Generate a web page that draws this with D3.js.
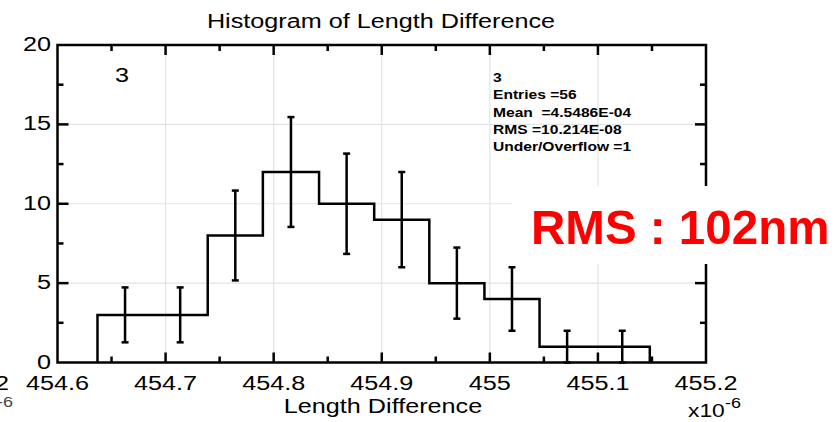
<!DOCTYPE html>
<html>
<head>
<meta charset="utf-8">
<script src="https://cdn.jsdelivr.net/npm/d3@7"></script>
<style>
  html, body { margin: 0; padding: 0; background: #fff; }
  svg { display: block; font-family: "Liberation Sans", Arial, sans-serif; }
  text { white-space: pre; }
</style>
</head>
<body>
<script>
const width = 840;
const height = 422;

// histogram data
const binEdges = [454.637, 454.688, 454.739, 454.790, 454.842, 454.893, 454.944, 454.995, 455.046, 455.097, 455.148];
const counts = [3, 3, 8, 12, 10, 9, 5, 4, 1, 1];
const errors = [1.73, 1.73, 2.83, 3.46, 3.16, 3.0, 2.24, 2.0, 1.0, 1.0];

const xTicks = [454.6, 454.7, 454.8, 454.9, 455, 455.1, 455.2];
const xMinor = [454.65, 454.75, 454.85, 454.95, 455.05, 455.15];
const yTicks = [0, 5, 10, 15, 20];
const yMinor = [2.5, 7.5, 12.5, 17.5];

const statLines = ["3", "Entries =56", "Mean  =4.5486E-04", "RMS =10.214E-08", "Under/Overflow =1"];

const x = d3.scaleLinear().domain([454.6, 455.2]).range([57.5, 706]);
const y = d3.scaleLinear().domain([0, 20]).range([362.5, 45]);

const svg = d3.select("body")
    .append("svg")
    .attr("width", width)
    .attr("height", height);

// text helper, the picture is a bit stretched sideways
function txt(px, py, s, o = {}) {
  return svg.append("text")
    .attr("transform", `translate(${px},${py}) scale(${o.sx ?? 1.2},1)`)
    .attr("text-anchor", o.anchor || "start")
    .attr("font-size", o.size || 21)
    .attr("font-weight", o.weight || "normal")
    .attr("fill", o.fill || "#000")
    .text(s);
}

// grid
const grid = svg.append("g").attr("stroke", "#e2e5e5").attr("stroke-width", 1.2);
grid.selectAll(".gx").data(xTicks.slice(1, -1)).enter().append("line")
    .attr("x1", d => x(d)).attr("x2", d => x(d))
    .attr("y1", y(20)).attr("y2", y(0));
grid.selectAll(".gy").data(yTicks.slice(1, -1)).enter().append("line")
    .attr("x1", x.range()[0]).attr("x2", x.range()[1])
    .attr("y1", d => y(d)).attr("y2", d => y(d));

// histogram step line
const pts = [[binEdges[0], 0]];
counts.forEach((c, i) => {
  pts.push([binEdges[i], c]);
  pts.push([binEdges[i + 1], c]);
});
pts.push([binEdges[binEdges.length - 1], 0]);

svg.append("path")
    .datum(pts)
    .attr("d", d3.line().x(d => x(d[0])).y(d => y(d[1])))
    .attr("fill", "none")
    .attr("stroke", "#000")
    .attr("stroke-width", 2.5);

// error bars
const eb = svg.append("g").attr("stroke", "#000").attr("stroke-width", 2.5);
counts.forEach((c, i) => {
  const cx = x((binEdges[i] + binEdges[i + 1]) / 2);
  eb.append("line").attr("x1", cx).attr("x2", cx).attr("y1", y(c - errors[i])).attr("y2", y(c + errors[i]));
  eb.append("line").attr("x1", cx - 3.5).attr("x2", cx + 3.5).attr("y1", y(c + errors[i])).attr("y2", y(c + errors[i]));
  eb.append("line").attr("x1", cx - 3.5).attr("x2", cx + 3.5).attr("y1", y(c - errors[i])).attr("y2", y(c - errors[i]));
});

// frame and inward ticks
const ax = svg.append("g").attr("stroke", "#000").attr("stroke-width", 2.5).attr("fill", "none");
ax.append("rect")
    .attr("x", x.range()[0]).attr("y", y(20))
    .attr("width", x.range()[1] - x.range()[0])
    .attr("height", y(0) - y(20));

const tickX = (vals, len) => {
  vals.forEach(v => {
    ax.append("line").attr("x1", x(v)).attr("x2", x(v)).attr("y1", y(0)).attr("y2", y(0) - len);
    ax.append("line").attr("x1", x(v)).attr("x2", x(v)).attr("y1", y(20)).attr("y2", y(20) + len);
  });
};
tickX(xTicks.slice(1, -1), 10);
tickX(xMinor, 6);

const tickY = (vals, len) => {
  vals.forEach(v => {
    ax.append("line").attr("x1", x.range()[0]).attr("x2", x.range()[0] + len).attr("y1", y(v)).attr("y2", y(v));
    ax.append("line").attr("x1", x.range()[1]).attr("x2", x.range()[1] - len).attr("y1", y(v)).attr("y2", y(v));
  });
};
tickY(yTicks.slice(1, -1), 11);
tickY(yMinor, 6);

// tick labels
xTicks.forEach(v => txt(x(v), 390, d3.format("")(v), { anchor: "middle" }));
yTicks.forEach(v => txt(51, y(v) + 6, String(v), { anchor: "end" }));

// titles
txt(381, 28, "Histogram of Length Difference", { anchor: "middle" });
txt(383, 413, "Length Difference", { anchor: "middle" });

// exponent
txt(688, 417, "x10", { size: 19 });
txt(725, 408, "-6", { size: 15 });

// cut-off bits of the neighbouring plot at the far left
txt(9, 390, "2", { anchor: "end" });
txt(13, 407, "-6", { anchor: "end", size: 15, fill: "#444" });

// pad label and stats box
txt(115, 82, "3");
statLines.forEach((s, i) => txt(493, 82 + i * 17.3, s, { size: 13, weight: "bold" }));

// red RMS note on a white patch
svg.append("rect")
    .attr("x", 512).attr("y", 186)
    .attr("width", 328).attr("height", 78)
    .attr("fill", "#fff");
txt(531, 244, "RMS : 102nm", { size: 49, weight: "bold", fill: "#ff0000", sx: 0.97 });
</script>
</body>
</html>
